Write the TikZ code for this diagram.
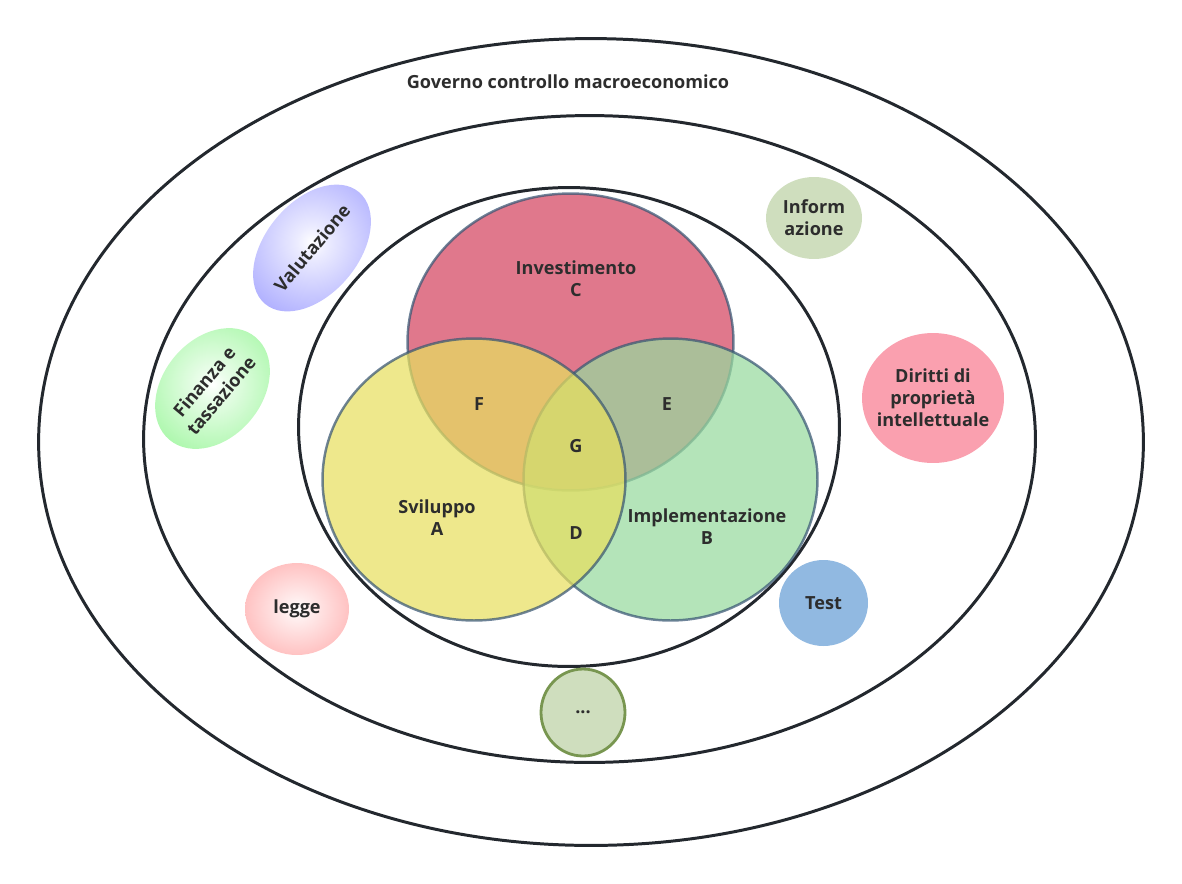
\documentclass[tikz,border=0pt]{standalone}
\usepackage{fontspec}
\setmainfont{Open Sans}
\usetikzlibrary{shapes.geometric}
\definecolor{ringink}{RGB}{35,40,46}
\definecolor{labelink}{RGB}{45,45,45}
\definecolor{vennedge}{RGB}{55,85,115}
\definecolor{investred}{RGB}{212,68,95}
\definecolor{devyellow}{RGB}{231,223,95}
\definecolor{implgreen}{RGB}{151,218,158}
\definecolor{sage}{RGB}{207,222,190}
\definecolor{sageedge}{RGB}{120,150,80}
\definecolor{rosepink}{RGB}{250,160,175}
\definecolor{skyblue}{RGB}{145,185,225}
\definecolor{lavender}{RGB}{155,155,255}
\definecolor{mint}{RGB}{145,245,145}
\definecolor{blush}{RGB}{255,165,165}
\colorlet{glowtint}{lavender}
\pgfdeclareradialshading[glowtint]{bubbleglow}{\pgfpointorigin}{%
  color(0bp)=(white); color(6bp)=(glowtint!20!white);
  color(38bp)=(glowtint); color(60bp)=(glowtint)}

\tikzset{
  ring/.style={ellipse,draw=ringink,line width=1.7pt,inner sep=0pt},
  venn/.style={ellipse,draw=vennedge,line width=1.4pt,inner sep=0pt,opacity=0.72},
  txt/.style={font=\bfseries\fontsize{10.3}{12.5}\selectfont,text=labelink,align=center},
  bubble/.style={ellipse,inner sep=-4pt,txt},
  glow/.style={/utils/exec={\colorlet{glowtint}{#1}},shading=bubbleglow}
}

\begin{document}
\begin{tikzpicture}[x=0.02cm,y=-0.02cm]
  \useasboundingbox (0,0) rectangle (1182,883);
  % rings
  \node[ring,minimum width=22.1cm,minimum height=16.14cm] (outer) at (591,442) {};
  \node[ring,minimum width=17.84cm,minimum height=12.94cm] (middle) at (589.5,439) {};
  \node[ring,minimum width=10.82cm,minimum height=9.58cm] (inner) at (569,427) {};
  \node[txt] (gov) at (568,82) {Governo controllo macroeconomico};
  % venn circles (C, then B, then A on top)
  \node[venn,fill=investred,minimum width=6.52cm,minimum height=5.94cm] (invest) at (570.5,342) {};
  \node[venn,fill=implgreen,minimum width=5.88cm,minimum height=5.64cm] (impl) at (670.5,479.5) {};
  \node[venn,fill=devyellow,minimum width=6.06cm,minimum height=5.64cm] (svil) at (474,479.5) {};
  \node[txt] (lblC) at (576,279) {Investimento\\C};
  \node[txt] (lblA) at (437,518) {Sviluppo\\A};
  \node[txt] (lblB) at (707,527) {Implementazione\\B};
  \node[txt] (lblF) at (479,404) {F};
  \node[txt] (lblE) at (667,404) {E};
  \node[txt] (lblG) at (576,446) {G};
  \node[txt] (lblD) at (576,533) {D};
  % bubbles
  \node[bubble,glow=lavender,rotate=50,minimum width=2.92cm,minimum height=1.86cm] (valut) at (312,248) {Valutazione};
  \node[bubble,glow=mint,rotate=50,minimum width=2.68cm,minimum height=1.98cm] (finanza) at (212.5,388.5) {Finanza e\\tassazione};
  \node[bubble,fill=sage,minimum width=1.92cm,minimum height=1.64cm] (inform) at (814,218) {Inform\\azione};
  \node[bubble,fill=rosepink,minimum width=2.84cm,minimum height=2.6cm] (diritti) at (933,398) {Diritti di\\proprietà\\intellettuale};
  \node[bubble,glow=blush,minimum width=2.08cm,minimum height=1.84cm] (legge) at (297,609) {legge};
  \node[bubble,fill=skyblue,minimum width=1.78cm,minimum height=1.72cm] (test) at (823.5,603) {Test};
  \node[bubble,fill=sage,draw=sageedge,line width=1.6pt,minimum width=1.68cm,minimum height=1.74cm] (more) at (583,712.5) {...};
\end{tikzpicture}
\end{document}
